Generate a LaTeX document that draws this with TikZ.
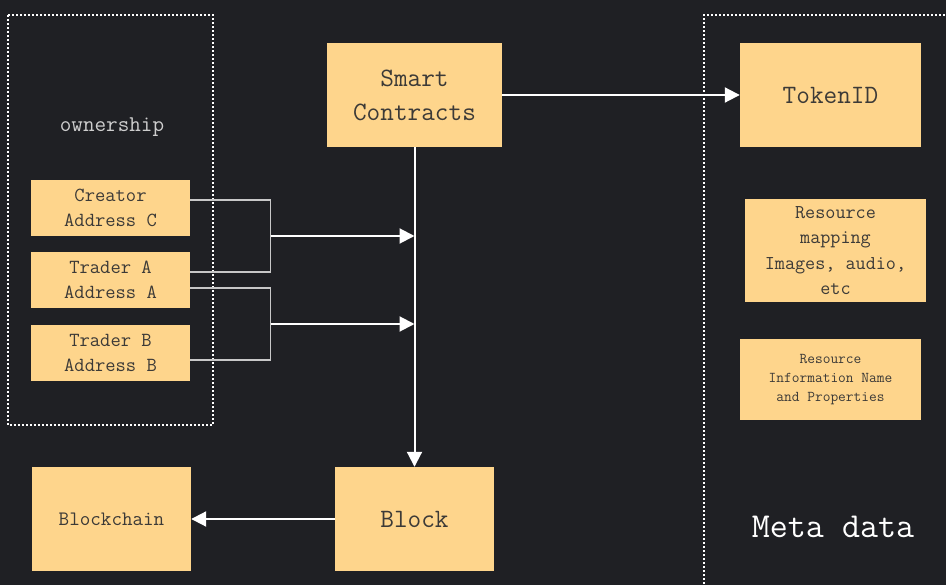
\documentclass[tikz,border=0pt]{standalone}
\usepackage{fontspec}
\usetikzlibrary{arrows.meta}
\definecolor{bgc}{RGB}{31,32,36}
\definecolor{boxc}{RGB}{254,213,140}
\definecolor{txtc}{RGB}{60,58,55}
\definecolor{linec}{RGB}{200,200,200}
\begin{document}
\begin{tikzpicture}[x=1pt,y=-1pt,
  box/.style={fill=boxc, text=txtc, inner sep=0pt, align=center},
  fs/.style 2 args={font=\ttfamily\fontsize{#1}{#2}\selectfont},
  dotbox/.style={draw=white, line width=2pt, dash pattern=on 2pt off 2pt},
  thinl/.style={draw=linec, line width=1.2pt},
  arr/.style={draw=white, line width=2pt, -{Triangle[length=15pt,width=15pt]}}
]
\fill[bgc] (0,0) rectangle (946,585);
\useasboundingbox (0,0) rectangle (946,585);

% dotted frames
\draw[dotbox] (8,15) rectangle (213,425);
\draw[dotbox] (704,600) -- (704,15) -- (960,15);

\node[text=linec!90!white, fs={22.5}{28}] (own) at (112,127) {ownership};
\node[text=white, fs={35}{42}] (meta) at (833,527) {Meta data};

\node[box, fs={20}{25}, minimum width=159pt, minimum height=56pt] (cre) at (110.5,208) {Creator\\Address C};
\node[box, fs={20}{25}, minimum width=159pt, minimum height=56pt] (ta) at (110.5,280) {Trader A\\Address A};
\node[box, fs={20}{25}, minimum width=159pt, minimum height=56pt] (tb) at (110.5,353) {Trader B\\Address B};

\node[box, fs={26.5}{34}, minimum width=175pt, minimum height=104pt] (sc) at (414.5,95) {Smart\\Contracts};
\node[box, fs={26.5}{34}, minimum width=181pt, minimum height=104pt] (tok) at (830.5,95) {TokenID};
\node[box, fs={19.6}{25.3}, minimum width=181pt, minimum height=103pt] (rm) at (835.5,250.5) {Resource\\mapping\\Images, audio,\\etc};
\node[box, fs={15}{19}, minimum width=181pt, minimum height=81pt] (ri) at (830.5,379.5) {Resource\\Information Name\\and Properties};

\node[box, fs={20.5}{25}, minimum width=159pt, minimum height=104pt] (bc) at (111.5,519) {Blockchain};
\node[box, fs={26.5}{34}, minimum width=159pt, minimum height=104pt] (blk) at (414.5,519) {Block};

% connectors
\coordinate (j1) at (270.5,236);
\coordinate (j2) at (270.5,324);
\draw[thinl] ([yshift=8pt]cre.east) -| (j1);
\draw[thinl] ([yshift=8pt]ta.east) -| (j1);
\draw[thinl] ([yshift=-8pt]ta.east) -| (j2);
\draw[thinl] ([yshift=-7pt]tb.east) -| (j2);
\draw[arr] (j1) -- (sc.south |- j1);
\draw[arr] (j2) -- (sc.south |- j2);

\draw[arr] (sc.south) -- (blk.north);
\draw[arr] (sc.east) -- (tok.west);
\draw[arr] (blk.west) -- (bc.east);
\end{tikzpicture}
\end{document}
